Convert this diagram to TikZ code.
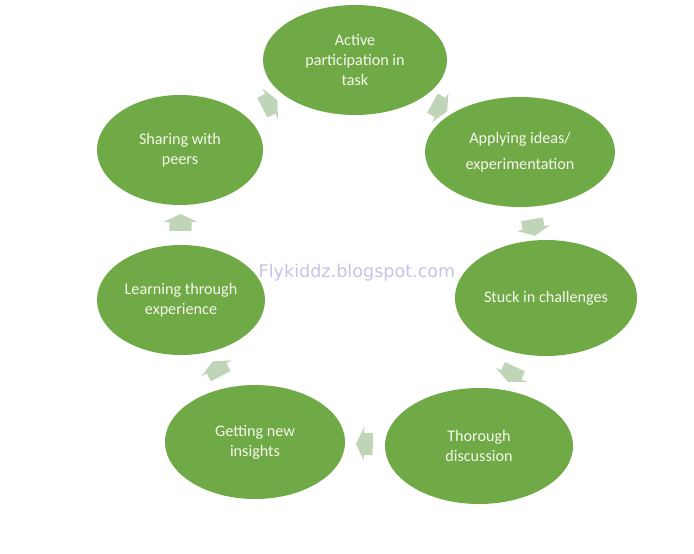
\documentclass[tikz,border=0pt]{standalone}
\usepackage{fontspec}
\setmainfont{Carlito}
\newfontfamily\markfont{DejaVu Sans}
\usepackage{tikz}
\usetikzlibrary{positioning, shapes, shapes.geometric, shapes.arrows, arrows.meta, calc}
\definecolor{leaf}{RGB}{112,170,70}
\definecolor{pale}{RGB}{192,212,184}
\definecolor{cream}{RGB}{246,246,236}
\definecolor{lilac}{RGB}{196,196,230}
\tikzset{
  blob/.style = {ellipse, fill=leaf, draw=none, inner sep=0pt,
                 text=cream, align=center,
                 font=\fontsize{11.5}{14.5}\selectfont},
  turn/.style = {single arrow, fill=pale, draw=none,
                 inner xsep=0pt, inner ysep=0.27cm,
                 minimum height=0.42cm,
                 single arrow head extend=0.15cm,
                 single arrow tip angle=130,
                 sloped, allow upside down},
  wmark/.style = {text=lilac, font=\markfont\fontsize{12.5}{14}\selectfont},
}
\begin{document}
\begin{tikzpicture}

% ────────────────────────────────────────────────────────────
%  canvas 694 x 553 px  ->  17.35 x 13.825 cm  (1 px = 0.025 cm)
% ────────────────────────────────────────────────────────────
\useasboundingbox (0,0) rectangle (17.35,-13.825);

% ═══════════════════════════════════════════════════════════
%  CYCLE STAGES  (clockwise from the top)
% ═══════════════════════════════════════════════════════════
\node[blob, minimum width=4.6cm,  minimum height=2.75cm] (act) at (8.875, -1.5)
  {Active\\participation in\\task};

\node[blob, minimum width=4.75cm, minimum height=2.75cm] (app) at (13.0, -3.8)
  {Applying ideas/\\[4pt]experimentation};

\node[blob, minimum width=4.55cm, minimum height=2.9cm] (stk) at (13.65, -7.45)
  {Stuck in challenges};

\node[blob, minimum width=4.7cm,  minimum height=2.9cm] (thr) at (11.975, -11.15)
  {Thorough\\discussion};

\node[blob, minimum width=4.5cm,  minimum height=2.85cm] (gni) at (6.375, -11.05)
  {Getting new\\insights};

\node[blob, minimum width=4.2cm,  minimum height=2.75cm] (lte) at (4.525, -7.5)
  {Learning through\\experience};

\node[blob, minimum width=4.15cm, minimum height=2.75cm] (shp) at (4.5, -3.75)
  {Sharing with\\peers};

% ═══════════════════════════════════════════════════════════
%  ARROWS  –  halfway between the stage centres
% ═══════════════════════════════════════════════════════════
\path (act.center) -- node[turn] (a1) {} (app.center);
\path (app.center) -- node[turn] (a2) {} (stk.center);
\path (stk.center) -- node[turn] (a3) {} (thr.center);
\path (thr.center) -- node[turn] (a4) {} (gni.center);
\path (gni.center) -- node[turn] (a5) {} (lte.center);
\path (lte.center) -- node[turn] (a6) {} (shp.center);
\path (shp.center) -- node[turn] (a7) {} (act.center);

% ── watermark ───────────────────────────────────────────────
\node[wmark] (wm) at (8.925, -6.825) {Flykiddz.blogspot.com};

\end{tikzpicture}
\end{document}
